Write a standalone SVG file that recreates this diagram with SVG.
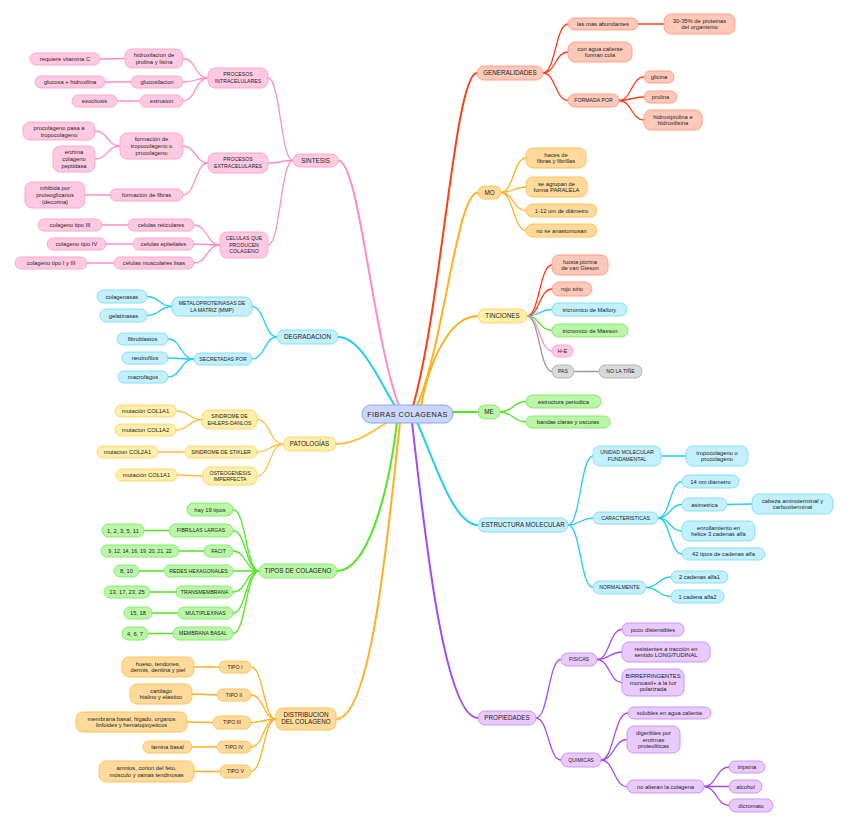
<svg xmlns="http://www.w3.org/2000/svg" width="848" height="827" viewBox="0 0 848 827">
<style>
text{font-family:"Liberation Sans","DejaVu Sans",sans-serif;fill:#222;text-anchor:middle}
.t{font-size:5.8px}
.u{font-size:5.2px}
.m{font-size:6.3px}
.c{font-size:7.2px;letter-spacing:0.5px}
rect{stroke-width:1}
.pk rect{fill:#ffcae1;stroke:#ffa6cc}
.cy rect{fill:#c3f0fd;stroke:#86def7}
.yl rect{fill:#ffefaa;stroke:#ffd66c}
.gr rect{fill:#baf6a8;stroke:#88ea70}
.or rect{fill:#ffda9a;stroke:#ffc25a}
.rd rect{fill:#ffc8b8;stroke:#ffa086}
.pu rect{fill:#e8caff;stroke:#cc95f5}
.gy rect{fill:#d9d9d9;stroke:#b6b6b6}
.ct rect{fill:#cad6fb;stroke:#8ea4ee}
#connectors path{fill:none;stroke-width:1.3;stroke-linecap:round}
#connectors .main{stroke-width:2}
.lpk{stroke:#ff8dc5}.lcy{stroke:#1fcdf6}.lyl{stroke:#ffbf3e}.lgr{stroke:#4fe622}
.lor{stroke:#ffb11c}.lrd{stroke:#ff3d18}.lpu{stroke:#a649f2}.lgy{stroke:#9a9a9a}
</style>
<rect width="848" height="827" fill="#fff"/>
<g id="connectors">
<!-- main branches -->
<path class="main lrd" d="M413 406 C441.8 306.1 454.6 73 477 73"/>
<path class="main lor" d="M417 406 C444.5 342 456.7 192.5 478 192.5"/>
<path class="main lor" d="M421 406 C429.6 361 449.5 316 478 316"/>
<path class="main lgr" d="M440 412 L478 412"/>
<path class="main lcy" d="M417 422 C435.3 463.2 453.6 525 478 525"/>
<path class="main lpu" d="M412 422 C425.2 540.4 445 718 478 718"/>
<path class="main lpk" d="M399 406 C371.6 332.4 359.4 160.5 338 160.5"/>
<path class="main lcy" d="M395 406 C377.9 378.4 360.8 337 338 337"/>
<path class="main lyl" d="M388 422 C372.4 430.8 356.8 444 336 444"/>
<path class="main lgr" d="M397 422 C388 496.5 367 571 337 571"/>
<path class="main lor" d="M400 422 C387.2 540.8 371.2 719 336 719"/>
<!-- sintesis -->
<path class="lpk" d="M293 160.5 C280.5 160.5 280.5 78 268 78"/>
<path class="lpk" d="M293 160.5 C280.5 160.5 280.5 163 268 163"/>
<path class="lpk" d="M293 160.5 C280.5 160.5 280.5 245 268 245"/>
<path class="lpk" d="M208 78 C195.5 78 195.5 58.5 183 58.5"/>
<path class="lpk" d="M208 78 C195.5 78 195.5 82 183 82"/>
<path class="lpk" d="M208 78 C195.5 78 195.5 101 183 101"/>
<path class="lpk" d="M125 58.5 L100 59"/>
<path class="lpk" d="M131 82 L105 82"/>
<path class="lpk" d="M140 101 L117 101"/>
<path class="lpk" d="M208 163 C195.5 163 195.5 146 183 146"/>
<path class="lpk" d="M208 163 C195.5 163 195.5 195 183 195"/>
<path class="lpk" d="M120 146 C107.5 146 107.5 131 95 131"/>
<path class="lpk" d="M120 146 C107.5 146 107.5 159 95 159"/>
<path class="lpk" d="M110 195 L85 195"/>
<path class="lpk" d="M220 245 C207 245 207 225 194 225"/>
<path class="lpk" d="M220 245 C207 245 207 244 194 244"/>
<path class="lpk" d="M220 245 C207 245 207 263 194 263"/>
<path class="lpk" d="M128 225 L102 225"/>
<path class="lpk" d="M133 244 L106 244"/>
<path class="lpk" d="M114 263 L87 263"/>
<!-- degradacion -->
<path class="lcy" d="M277 337 C264.5 337 264.5 306.5 252 306.5"/>
<path class="lcy" d="M277 337 C264.5 337 264.5 359 252 359"/>
<path class="lcy" d="M172 306.5 C159.5 306.5 159.5 296.5 147 296.5"/>
<path class="lcy" d="M172 306.5 C159.5 306.5 159.5 315.5 147 315.5"/>
<path class="lcy" d="M194 359 C181 359 181 339 168 339"/>
<path class="lcy" d="M194 359 C181 359 181 358 168 358"/>
<path class="lcy" d="M194 359 C181 359 181 377 168 377"/>
<!-- patologias -->
<path class="lyl" d="M283 444 C270 444 270 419.5 257 419.5"/>
<path class="lyl" d="M283 444 C270 444 270 452 257 452"/>
<path class="lyl" d="M283 444 C270 444 270 476 257 476"/>
<path class="lyl" d="M202 419.5 C189 419.5 189 411 176 411"/>
<path class="lyl" d="M202 419.5 C189 419.5 189 430 176 430"/>
<path class="lyl" d="M185 452 L158 452"/>
<path class="lyl" d="M203 476 L177 475"/>
<!-- tipos -->
<path class="lgr" d="M259 571 C246 571 246 509.5 233 509.5"/>
<path class="lgr" d="M259 571 C246 571 246 530.5 233 530.5"/>
<path class="lgr" d="M259 571 C246 571 246 551 233 551"/>
<path class="lgr" d="M259 571 L233 571"/>
<path class="lgr" d="M259 571 C246 571 246 592 233 592"/>
<path class="lgr" d="M259 571 C246 571 246 613 233 613"/>
<path class="lgr" d="M259 571 C246 571 246 633.5 233 633.5"/>
<path class="lgr" d="M169 530.5 L144 530.5"/>
<path class="lgr" d="M204 551 L179 551"/>
<path class="lgr" d="M164 571 L139 571"/>
<path class="lgr" d="M176 592 L150 592"/>
<path class="lgr" d="M178 613 L152 613"/>
<path class="lgr" d="M173 633.5 L148 633.5"/>
<!-- distribucion -->
<path class="lor" d="M276 719 C263.5 719 263.5 667 251 667"/>
<path class="lor" d="M276 719 C263.5 719 263.5 695 251 695"/>
<path class="lor" d="M276 719 C263.5 719 263.5 722.5 251 722.5"/>
<path class="lor" d="M276 719 C263.5 719 263.5 747 251 747"/>
<path class="lor" d="M276 719 C263.5 719 263.5 771.5 251 771.5"/>
<path class="lor" d="M219 667 L194 667"/>
<path class="lor" d="M217 695 L192 694"/>
<path class="lor" d="M213 722.5 L187 722"/>
<path class="lor" d="M217 747 L192 747"/>
<path class="lor" d="M220 771.5 L194 771.5"/>
<!-- generalidades -->
<path class="lrd" d="M543 73 C555.5 73 555.5 24 568 24"/>
<path class="lrd" d="M543 73 C555.5 73 555.5 52 568 52"/>
<path class="lrd" d="M543 73 C555.5 73 555.5 100.5 568 100.5"/>
<path class="lrd" d="M638 24 L664 24"/>
<path class="lrd" d="M619 100.5 C631.5 100.5 631.5 77 644 77"/>
<path class="lrd" d="M619 100.5 C631.5 100.5 631.5 97 644 97"/>
<path class="lrd" d="M619 100.5 C631.5 100.5 631.5 120 644 120"/>
<!-- MO -->
<path class="lor" d="M501 192.5 C513.5 192.5 513.5 158 526 158"/>
<path class="lor" d="M501 192.5 C513.5 192.5 513.5 187 526 187"/>
<path class="lor" d="M501 192.5 C513.5 192.5 513.5 210.5 526 210.5"/>
<path class="lor" d="M501 192.5 C513.5 192.5 513.5 230.5 526 230.5"/>
<!-- tinciones -->
<path class="lrd" d="M527 316 C539.5 316 539.5 265 552 265"/>
<path class="lrd" d="M527 316 C539.5 316 539.5 289 552 289"/>
<path class="lcy" d="M527 316 C539.5 316 539.5 309.5 552 309.5"/>
<path class="lgr" d="M527 316 C539.5 316 539.5 330.5 552 330.5"/>
<path class="lpk" d="M527 316 C539.5 316 539.5 351 552 351"/>
<path class="lgy" d="M527 316 C539.5 316 539.5 371.5 552 371.5"/>
<path class="lgy" d="M574 371.5 L599 371.5"/>
<!-- ME -->
<path class="lgr" d="M500 412 C513 412 513 401.5 526 401.5"/>
<path class="lgr" d="M500 412 C513 412 513 422 526 422"/>
<!-- estructura -->
<path class="lcy" d="M568 525 C580.5 525 580.5 456 593 456"/>
<path class="lcy" d="M568 525 C580.5 525 580.5 518 593 518"/>
<path class="lcy" d="M568 525 C580.5 525 580.5 587.5 593 587.5"/>
<path class="lcy" d="M661 456 L686 456"/>
<path class="lcy" d="M658 518 C670 518 670 481.5 682 481.5"/>
<path class="lcy" d="M658 518 C670 518 670 504.5 682 504.5"/>
<path class="lcy" d="M658 518 C670 518 670 531 682 531"/>
<path class="lcy" d="M658 518 C670 518 670 554 682 554"/>
<path class="lcy" d="M727 504.5 L752 504"/>
<path class="lcy" d="M646 587.5 C658.5 587.5 658.5 577 671 577"/>
<path class="lcy" d="M646 587.5 C658.5 587.5 658.5 596.5 671 596.5"/>
<!-- propiedades -->
<path class="lpu" d="M536 718 C548.5 718 548.5 659.5 561 659.5"/>
<path class="lpu" d="M536 718 C548.5 718 548.5 760 561 760"/>
<path class="lpu" d="M597 659.5 C609.5 659.5 609.5 629.5 622 629.5"/>
<path class="lpu" d="M597 659.5 C609.5 659.5 609.5 652 622 652"/>
<path class="lpu" d="M597 659.5 C609.5 659.5 609.5 682.5 622 682.5"/>
<path class="lpu" d="M601 760 C614 760 614 713 628 713"/>
<path class="lpu" d="M601 760 C614 760 614 739.5 627 739.5"/>
<path class="lpu" d="M601 760 C614 760 614 786.5 627 786.5"/>
<path class="lpu" d="M704 786.5 C716.5 786.5 716.5 767 729 767"/>
<path class="lpu" d="M704 786.5 L729 786.5"/>
<path class="lpu" d="M704 786.5 C716.5 786.5 716.5 805.5 729 805.5"/>
</g>

<!-- center -->
<g id="center" class="ct"><rect x="362" y="405" width="91" height="18" rx="9"/><text class="c" x="407.5" y="416.6">FIBRAS COLAGENAS</text></g>

<!-- SINTESIS -->
<g id="sintesis" class="pk"><rect x="293" y="154" width="45" height="13" rx="6.5"/><text class="m" x="315.5" y="162.7">SINTESIS</text></g>
<g id="proc-intra" class="pk"><rect x="208" y="68" width="60" height="20" rx="7"/><text class="u" x="238" y="76.3">PROCESOS<tspan x="238" dy="6.5">INTRACELULARES</tspan></text></g>
<g id="proc-extra" class="pk"><rect x="208" y="153" width="60" height="20" rx="7"/><text class="u" x="238" y="161.3">PROCESOS<tspan x="238" dy="6.5">EXTRACELULARES</tspan></text></g>
<g id="celulas" class="pk"><rect x="220" y="232" width="48" height="26" rx="7"/><text class="u" x="244" y="240.3">CELULAS QUE<tspan x="244" dy="6.5">PRODUCEN</tspan><tspan x="244" dy="6.5">COLAGENO</tspan></text></g>
<g id="hidroxilacion" class="pk"><rect x="125" y="49" width="58" height="19" rx="7"/><text class="t" x="154" y="57">hidroxilacion de<tspan x="154" dy="6.8">prolina y lisina</tspan></text></g>
<g id="glucosilacion" class="pk"><rect x="131" y="76" width="52" height="12" rx="6"/><text class="t" x="157" y="84">glucosilacion</text></g>
<g id="extrusion" class="pk"><rect x="140" y="95" width="43" height="12" rx="6"/><text class="t" x="161.5" y="103">extrusion</text></g>
<g id="vitamina" class="pk"><rect x="30" y="53" width="70" height="12" rx="6"/><text class="t" x="65" y="61">requiere vitamina C</text></g>
<g id="glucosa" class="pk"><rect x="35" y="76" width="70" height="12" rx="6"/><text class="t" x="70" y="84">glucosa + hidroxilina</text></g>
<g id="exocitosis" class="pk"><rect x="72" y="95" width="45" height="12" rx="6"/><text class="t" x="94.5" y="103">exocitosis</text></g>
<g id="form-tropo" class="pk"><rect x="120" y="133" width="63" height="26" rx="7"/><text class="t" x="151.5" y="141.2">formación de<tspan x="151.5" dy="6.8">tropocolageno o</tspan><tspan x="151.5" dy="6.8">procolageno</tspan></text></g>
<g id="form-fibras" class="pk"><rect x="110" y="189" width="73" height="12" rx="6"/><text class="t" x="146.5" y="197">formación de fibras</text></g>
<g id="procol-pasa" class="pk"><rect x="23" y="122" width="72" height="18" rx="7"/><text class="t" x="59" y="129.7">procolageno pasa a<tspan x="59" dy="6.8">tropocolageno</tspan></text></g>
<g id="enzima" class="pk"><rect x="53" y="146" width="42" height="26" rx="7"/><text class="t" x="74" y="154.2">enzima<tspan x="74" dy="6.8">colageno</tspan><tspan x="74" dy="6.8">peptidasa</tspan></text></g>
<g id="inhibida" class="pk"><rect x="25" y="182" width="60" height="26" rx="7"/><text class="t" x="55" y="190.2">inhibida por<tspan x="55" dy="6.8">proteoglicanos</tspan><tspan x="55" dy="6.8">(decorina)</tspan></text></g>
<g id="cel-retic" class="pk"><rect x="128" y="219" width="66" height="12" rx="6"/><text class="t" x="161" y="227">celulas reticulares</text></g>
<g id="cel-epit" class="pk"><rect x="133" y="238" width="61" height="12" rx="6"/><text class="t" x="163.5" y="246">celulas epiteliales</text></g>
<g id="cel-musc" class="pk"><rect x="114" y="257" width="80" height="12" rx="6"/><text class="t" x="154" y="265">celulas musculares lisas</text></g>
<g id="col-iii" class="pk"><rect x="38" y="219" width="64" height="12" rx="6"/><text class="t" x="70" y="227">colageno tipo III</text></g>
<g id="col-iv" class="pk"><rect x="47" y="238" width="59" height="12" rx="6"/><text class="t" x="76.5" y="246">colageno tipo IV</text></g>
<g id="col-i-iii" class="pk"><rect x="15" y="257" width="72" height="12" rx="6"/><text class="t" x="51" y="265">colageno tipo I y III</text></g>

<!-- DEGRADACION -->
<g id="degradacion" class="cy"><rect x="277" y="330" width="61" height="14" rx="7"/><text class="m" x="307.5" y="339.2">DEGRADACION</text></g>
<g id="mmp" class="cy"><rect x="172" y="297" width="80" height="19" rx="7"/><text class="u" x="212" y="305">METALOPROTEINASAS DE<tspan x="212" dy="6.5">LA MATRIZ (MMP)</tspan></text></g>
<g id="secretadas" class="cy"><rect x="194" y="353" width="58" height="12" rx="6"/><text class="u" x="223" y="360.9">SECRETADAS POR</text></g>
<g id="colagenasas" class="cy"><rect x="97" y="290" width="50" height="13" rx="6.5"/><text class="t" x="122" y="298.5">colagenasas</text></g>
<g id="gelatinasas" class="cy"><rect x="100" y="309" width="47" height="13" rx="6.5"/><text class="t" x="123.5" y="317.5">gelatinasas</text></g>
<g id="fibroblastos" class="cy"><rect x="117" y="333" width="51" height="12" rx="6"/><text class="t" x="142.5" y="341">fibroblastos</text></g>
<g id="neutrofilos" class="cy"><rect x="122" y="352" width="46" height="12" rx="6"/><text class="t" x="145" y="360">neutrofilos</text></g>
<g id="macrofagos" class="cy"><rect x="118" y="371" width="50" height="12" rx="6"/><text class="t" x="143" y="379">macrofagos</text></g>

<!-- PATOLOGIAS -->
<g id="patologias" class="yl"><rect x="283" y="437" width="53" height="14" rx="7"/><text class="m" x="309.5" y="446.2">PATOLOGÍAS</text></g>
<g id="ehlers" class="yl"><rect x="202" y="410" width="55" height="19" rx="7"/><text class="u" x="229.5" y="418">SINDROME DE<tspan x="229.5" dy="6.5">EHLERS-DANLOS</tspan></text></g>
<g id="stikler" class="yl"><rect x="185" y="446" width="72" height="12" rx="6"/><text class="u" x="221" y="453.9">SINDROME DE STIKLER</text></g>
<g id="osteo" class="yl"><rect x="203" y="467" width="54" height="18" rx="7"/><text class="u" x="230" y="474.6">OSTEOGENESIS<tspan x="230" dy="6.5">IMPERFECTA</tspan></text></g>
<g id="mut1" class="yl"><rect x="115" y="405" width="61" height="12" rx="6"/><text class="t" x="145.5" y="413">mutación COL1A1</text></g>
<g id="mut2" class="yl"><rect x="115" y="424" width="61" height="12" rx="6"/><text class="t" x="145.5" y="432">mutacion COL1A2</text></g>
<g id="mut3" class="yl"><rect x="97" y="446" width="61" height="12" rx="6"/><text class="t" x="127.5" y="454">mutacion COL2A1</text></g>
<g id="mut4" class="yl"><rect x="116" y="469" width="61" height="12" rx="6"/><text class="t" x="146.5" y="477">mutación COL1A1</text></g>

<!-- TIPOS -->
<g id="tipos" class="gr"><rect x="259" y="564" width="78" height="14" rx="7"/><text class="m" x="298" y="573.2">TIPOS DE COLAGENO</text></g>
<g id="hay19" class="gr"><rect x="187" y="503" width="46" height="13" rx="6.5"/><text class="t" x="210" y="511.5">hay 19 tipos</text></g>
<g id="fibrillas" class="gr"><rect x="169" y="524" width="64" height="13" rx="6.5"/><text class="u" x="201" y="532.4">FIBRILLAS LARGAS</text></g>
<g id="facit" class="gr"><rect x="204" y="545" width="29" height="12" rx="6"/><text class="u" x="218.5" y="552.9">FACIT</text></g>
<g id="redes" class="gr"><rect x="164" y="565" width="69" height="12" rx="6"/><text class="u" x="198.5" y="572.9">REDES HEXAGONALES</text></g>
<g id="transm" class="gr"><rect x="176" y="586" width="57" height="12" rx="6"/><text class="u" x="204.5" y="593.9">TRANSMEMBRANA</text></g>
<g id="multipl" class="gr"><rect x="178" y="607" width="55" height="12" rx="6"/><text class="u" x="205.5" y="614.9">MULTIPLEXINAS</text></g>
<g id="membasal" class="gr"><rect x="173" y="627" width="60" height="13" rx="6.5"/><text class="u" x="203" y="635.4">MEMBRANA BASAL</text></g>
<g id="g1" class="gr"><rect x="102" y="524" width="42" height="13" rx="6.5"/><text class="t" x="123" y="532.5">1, 2, 3, 5, 11</text></g>
<g id="g2" class="gr"><rect x="101" y="545" width="78" height="12" rx="6"/><text class="u" x="140" y="552.9">9, 12, 14, 16, 19, 20, 21, 22</text></g>
<g id="g3" class="gr"><rect x="114" y="565" width="25" height="12" rx="6"/><text class="t" x="126.5" y="573">8, 10</text></g>
<g id="g4" class="gr"><rect x="104" y="586" width="46" height="12" rx="6"/><text class="t" x="127" y="594">13, 17, 23, 25</text></g>
<g id="g5" class="gr"><rect x="124" y="607" width="28" height="12" rx="6"/><text class="t" x="138" y="615">15, 18</text></g>
<g id="g6" class="gr"><rect x="122" y="627" width="26" height="13" rx="6.5"/><text class="t" x="135" y="635.5">4, 6, 7</text></g>

<!-- DISTRIBUCION -->
<g id="distribucion" class="or"><rect x="276" y="708" width="60" height="22" rx="7"/><text class="m" x="306" y="717">DISTRIBUCION<tspan x="306" dy="7.2">DEL COLAGENO</tspan></text></g>
<g id="tipo1" class="or"><rect x="219" y="661" width="32" height="12" rx="6"/><text class="u" x="235" y="668.9">TIPO I</text></g>
<g id="tipo2" class="or"><rect x="217" y="689" width="34" height="12" rx="6"/><text class="u" x="234" y="696.9">TIPO II</text></g>
<g id="tipo3" class="or"><rect x="213" y="716" width="38" height="13" rx="6.5"/><text class="u" x="232" y="724.4">TIPO III</text></g>
<g id="tipo4" class="or"><rect x="217" y="741" width="34" height="12" rx="6"/><text class="u" x="234" y="748.9">TIPO IV</text></g>
<g id="tipo5" class="or"><rect x="220" y="765" width="31" height="13" rx="6.5"/><text class="u" x="235.5" y="773.4">TIPO V</text></g>
<g id="d1" class="or"><rect x="122" y="657" width="72" height="20" rx="7"/><text class="t" x="158" y="665.6">hueso, tendones,<tspan x="158" dy="6.8">dermis, dentina y piel</tspan></text></g>
<g id="d2" class="or"><rect x="130" y="684" width="62" height="20" rx="7"/><text class="t" x="161" y="692.6">cartilago<tspan x="161" dy="6.8">hialino y elastico</tspan></text></g>
<g id="d3" class="or"><rect x="76" y="712" width="111" height="20" rx="7"/><text class="t" x="131.5" y="720.6">membrana basal, higado, organos<tspan x="131.5" dy="6.8">linfoides y hematopoyeticos</tspan></text></g>
<g id="d4" class="or"><rect x="143" y="741" width="49" height="12" rx="6"/><text class="t" x="167.5" y="749">lamina basal</text></g>
<g id="d5" class="or"><rect x="99" y="761" width="95" height="21" rx="7"/><text class="t" x="146.5" y="770.1">amnios, corion del feto,<tspan x="146.5" dy="6.8">músculo y vainas tendinosas</tspan></text></g>

<!-- GENERALIDADES -->
<g id="generalidades" class="rd"><rect x="477" y="66" width="66" height="14" rx="7"/><text class="m" x="510" y="75.2">GENERALIDADES</text></g>
<g id="abundantes" class="rd"><rect x="568" y="18" width="70" height="12" rx="6"/><text class="t" x="603" y="26">las mas abundantes</text></g>
<g id="cola" class="rd"><rect x="568" y="42" width="64" height="20" rx="7"/><text class="t" x="600" y="50.6">con agua caliente<tspan x="600" dy="6.8">forman cola</tspan></text></g>
<g id="formada" class="rd"><rect x="568" y="94" width="51" height="13" rx="6.5"/><text class="u" x="593.5" y="102.4">FORMADA POR</text></g>
<g id="porcentaje" class="rd"><rect x="664" y="14" width="71" height="20" rx="7"/><text class="t" x="699.5" y="22.6">30-35% de proteinas<tspan x="699.5" dy="6.8">del organismo</tspan></text></g>
<g id="glicina" class="rd"><rect x="644" y="71" width="30" height="12" rx="6"/><text class="t" x="659" y="79">glicina</text></g>
<g id="prolina" class="rd"><rect x="644" y="91" width="33" height="12" rx="6"/><text class="t" x="660.5" y="99">prolina</text></g>
<g id="hidroxiprolina" class="rd"><rect x="644" y="110" width="58" height="20" rx="7"/><text class="t" x="673" y="118.6">hidroxiprolina e<tspan x="673" dy="6.8">hidroxilisina</tspan></text></g>

<!-- MO -->
<g id="mo" class="or"><rect x="478" y="186" width="23" height="13" rx="6.5"/><text class="m" x="489.5" y="194.7">MO</text></g>
<g id="haces" class="or"><rect x="526" y="148" width="60" height="20" rx="7"/><text class="t" x="556" y="156.6">haces de<tspan x="556" dy="6.8">fibras y fibrillas</tspan></text></g>
<g id="agrupan" class="or"><rect x="526" y="177" width="61" height="20" rx="7"/><text class="t" x="556.5" y="185.6">se agrupan de<tspan x="556.5" dy="6.8">forma PARALELA</tspan></text></g>
<g id="diametro" class="or"><rect x="526" y="204" width="71" height="13" rx="6.5"/><text class="t" x="561.5" y="212.5">1-12 um de diámetro</text></g>
<g id="anastomosan" class="or"><rect x="526" y="224" width="71" height="13" rx="6.5"/><text class="t" x="561.5" y="232.5">no se anastomosan</text></g>

<!-- TINCIONES -->
<g id="tinciones" class="yl"><rect x="478" y="309" width="49" height="14" rx="7"/><text class="m" x="502.5" y="318.2">TINCIONES</text></g>
<g id="fucsia" class="rd"><rect x="552" y="255" width="56" height="20" rx="7"/><text class="t" x="580" y="263.6">fucsia picrina<tspan x="580" dy="6.8">de van Gieson</tspan></text></g>
<g id="rojo" class="rd"><rect x="552" y="282" width="40" height="14" rx="7"/><text class="t" x="572" y="291">rojo sirio</text></g>
<g id="mallory" class="cy"><rect x="552" y="303" width="75" height="13" rx="6.5"/><text class="t" x="589.5" y="311.5">tricromico de Mallory</text></g>
<g id="masson" class="gr"><rect x="552" y="324" width="76" height="13" rx="6.5"/><text class="t" x="590" y="332.5">tricromico de Masson</text></g>
<g id="he" class="pk"><rect x="552" y="345" width="21" height="12" rx="6"/><text class="t" x="562.5" y="353">H-E</text></g>
<g id="pas" class="gy"><rect x="552" y="365" width="22" height="13" rx="6.5"/><text class="u" x="563" y="373.4">PAS</text></g>
<g id="notine" class="gy"><rect x="599" y="365" width="43" height="13" rx="6.5"/><text class="u" x="620.5" y="373.4">NO LA TIÑE</text></g>

<!-- ME -->
<g id="me" class="gr"><rect x="478" y="405" width="22" height="14" rx="7"/><text class="m" x="489" y="414.2">ME</text></g>
<g id="periodica" class="gr"><rect x="526" y="395" width="75" height="13" rx="6.5"/><text class="t" x="563.5" y="403.5">estructura periodica</text></g>
<g id="bandas" class="gr"><rect x="526" y="416" width="84" height="12" rx="6"/><text class="t" x="568" y="424">bandas claras y oscuras</text></g>

<!-- ESTRUCTURA MOLECULAR -->
<g id="estructura" class="cy"><rect x="478" y="518" width="90" height="14" rx="7"/><text class="m" x="523" y="527.2">ESTRUCTURA MOLECULAR</text></g>
<g id="unidad" class="cy"><rect x="593" y="446" width="68" height="20" rx="7"/><text class="u" x="627" y="454.3">UNIDAD MOLECULAR<tspan x="627" dy="6.5">FUNDAMENTAL</tspan></text></g>
<g id="caract" class="cy"><rect x="593" y="512" width="65" height="12" rx="6"/><text class="u" x="625.5" y="519.9">CARACTERISTICAS</text></g>
<g id="normalmente" class="cy"><rect x="593" y="581" width="53" height="13" rx="6.5"/><text class="u" x="619.5" y="589.4">NORMALMENTE</text></g>
<g id="tropocolageno" class="cy"><rect x="686" y="446" width="62" height="20" rx="7"/><text class="t" x="717" y="454.6">tropocolageno o<tspan x="717" dy="6.8">procolageno</tspan></text></g>
<g id="nm" class="cy"><rect x="682" y="475" width="57" height="13" rx="6.5"/><text class="t" x="710.5" y="483.5">14 nm diametro</text></g>
<g id="asimetrica" class="cy"><rect x="682" y="498" width="45" height="13" rx="6.5"/><text class="t" x="704.5" y="506.5">asimetrica</text></g>
<g id="cabeza" class="cy"><rect x="752" y="494" width="81" height="20" rx="7"/><text class="t" x="792.5" y="502.6">cabeza aminoterminal y<tspan x="792.5" dy="6.8">carboxiterminal</tspan></text></g>
<g id="enrollamiento" class="cy"><rect x="682" y="521" width="73" height="20" rx="7"/><text class="t" x="718.5" y="529.6">enrollamiento en<tspan x="718.5" dy="6.8">hélice 3 cadenas alfa</tspan></text></g>
<g id="tipos42" class="cy"><rect x="682" y="548" width="83" height="12" rx="6"/><text class="t" x="723.5" y="556">42 tipos de cadenas alfa</text></g>
<g id="alfa1" class="cy"><rect x="671" y="571" width="57" height="12" rx="6"/><text class="t" x="699.5" y="579">2 cadenas alfa1</text></g>
<g id="alfa2" class="cy"><rect x="671" y="590" width="53" height="13" rx="6.5"/><text class="t" x="697.5" y="598.5">1 cadena alfa2</text></g>

<!-- PROPIEDADES -->
<g id="propiedades" class="pu"><rect x="478" y="711" width="58" height="14" rx="7"/><text class="m" x="507" y="720.2">PROPIEDADES</text></g>
<g id="fisicas" class="pu"><rect x="561" y="653" width="36" height="13" rx="6.5"/><text class="u" x="579" y="661.4">FISICAS</text></g>
<g id="quimicas" class="pu"><rect x="561" y="753" width="40" height="14" rx="7"/><text class="u" x="581" y="761.9">QUIMICAS</text></g>
<g id="poco" class="pu"><rect x="622" y="623" width="62" height="13" rx="6.5"/><text class="t" x="653" y="631.5">poco distensibles</text></g>
<g id="resistentes" class="pu"><rect x="622" y="642" width="88" height="20" rx="7"/><text class="t" x="666" y="650.6">resistentes a tracción en<tspan x="666" dy="6.8">sentido LONGITUDINAL</tspan></text></g>
<g id="birrefringentes" class="pu"><rect x="622" y="669" width="62" height="27" rx="7"/><text class="t" x="653" y="677.7">BIRREFRINGENTES<tspan x="653" dy="6.8">monoaxil+ a la luz</tspan><tspan x="653" dy="6.8">polarizada</tspan></text></g>
<g id="solubles" class="pu"><rect x="628" y="707" width="83" height="12" rx="6"/><text class="t" x="669.5" y="715">solubles en agua caliente</text></g>
<g id="digeribles" class="pu"><rect x="627" y="726" width="53" height="27" rx="7"/><text class="t" x="653.5" y="734.7">digeribles por<tspan x="653.5" dy="6.8">enzimas</tspan><tspan x="653.5" dy="6.8">proteoliticas</tspan></text></g>
<g id="noalteran" class="pu"><rect x="627" y="780" width="77" height="13" rx="6.5"/><text class="t" x="665.5" y="788.5">no alteran la colagena</text></g>
<g id="tripsina" class="pu"><rect x="729" y="761" width="36" height="12" rx="6"/><text class="t" x="747" y="769">tripsina</text></g>
<g id="alcohol" class="pu"><rect x="729" y="780" width="33" height="13" rx="6.5"/><text class="t" x="745.5" y="788.5">alcohol</text></g>
<g id="dicromato" class="pu"><rect x="729" y="799" width="44" height="13" rx="6.5"/><text class="t" x="751" y="807.5">dicromato</text></g>
</svg>
